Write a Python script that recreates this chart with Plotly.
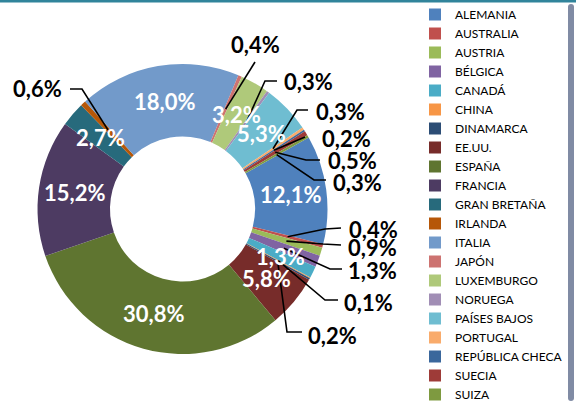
import math
import plotly.graph_objects as go

# ---------------- data ----------------
countries = ["ALEMANIA", "AUSTRALIA", "AUSTRIA", "BÉLGICA", "CANADÁ", "CHINA",
             "DINAMARCA", "EE.UU.", "ESPAÑA", "FRANCIA", "GRAN BRETAÑA", "IRLANDA",
             "ITALIA", "JAPÓN", "LUXEMBURGO", "NORUEGA", "PAÍSES BAJOS", "PORTUGAL",
             "REPÚBLICA CHECA", "SUECIA", "SUIZA"]
shares = [12.1, 0.4, 0.9, 1.3, 1.3, 0.1, 0.2, 5.8, 30.8, 15.2, 2.7, 0.6,
          18.0, 0.4, 3.2, 0.3, 5.3, 0.3, 0.2, 0.5, 0.3]
colors = ["#4F81BD", "#C0504D", "#9BBB59", "#8064A2", "#4BACC6", "#F79646",
          "#2C4D75", "#772C2A", "#5F7530", "#4D3B62", "#276A7C", "#B65708",
          "#729ACA", "#CD7371", "#AFC97A", "#A18EB5", "#6FBDD1", "#F9AB6B",
          "#3A679C", "#9E3B38", "#7E9A40"]
inside_labels = ["ALEMANIA", "CANADÁ", "EE.UU.", "ESPAÑA", "FRANCIA", "GRAN BRETAÑA",
                 "ITALIA", "LUXEMBURGO", "PAÍSES BAJOS"]

# ---------------- layout geometry (pixels) ----------------
W, H = 576, 403
CX, CY, R = 182.5, 209.0, 145.0
HOLE = 0.5
ROTATION = 60.5
FONT = "Lato"

# outside label placement: (elbow points in px, text position px, xanchor)
outside = {
    "AUSTRALIA":       ([(325, 229), (341, 228)], (347, 230), "left"),
    "AUSTRIA":         ([(323, 244), (341, 245)], (346, 247), "left"),
    "BÉLGICA":         ([(330, 269), (342, 269)], (346, 270), "left"),
    "CHINA":           ([(325, 300), (338, 300)], (342, 302), "left"),
    "DINAMARCA":       ([(287, 332), (302, 332)], (306, 335), "left"),
    "IRLANDA":         ([(82, 89), (70, 89)], (64, 88), "right"),
    "JAPÓN":           ([(255, 62)], (255, 44), "center"),
    "NORUEGA":         ([(265, 81), (277, 81)], (282, 81), "left"),
    "PORTUGAL":        ([(297, 110), (308, 110)], (314, 111), "left"),
    "REPÚBLICA CHECA": ([(305, 137)], (320, 138), "left"),
    "SUECIA":          ([(306, 160), (320, 160)], (326, 160), "left"),
    "SUIZA":           ([(314, 180), (326, 180)], (331, 183), "left"),
}


def px2paper(x, y):
    return x / W, 1 - y / H


def fmt(v):
    return f"{v:.1f}%".replace(".", ",")


fig = go.Figure(go.Pie(
    labels=countries,
    values=shares,
    marker=dict(colors=colors, line=dict(width=0)),
    hole=HOLE,
    sort=False,
    direction="clockwise",
    rotation=ROTATION,
    textinfo="none",
    hoverinfo="label+percent",
    domain=dict(x=[(CX - R) / W, (CX + R) / W],
                y=[1 - (CY + R) / H, 1 - (CY - R) / H]),
))

total = sum(shares)
rmid = R * (1 + HOLE) / 2
annotations = []
shapes = [dict(type="rect", xref="paper", yref="paper", x0=0, x1=1,
               y0=1 - 2.5 / H, y1=1, fillcolor="#31849B", line=dict(width=0))]
cum = 0.0
for name, v in zip(countries, shares):
    ang = math.radians(ROTATION + 360 * (cum + v / 2) / total)
    cum += v
    ax = CX + rmid * math.sin(ang)
    ay = CY - rmid * math.cos(ang)
    if name in inside_labels:
        x, y = px2paper(ax, ay)
        annotations.append(dict(x=x, y=y, xref="paper", yref="paper", text=fmt(v),
                                showarrow=False, xanchor="center", yanchor="middle",
                                font=dict(family=FONT, size=22, color="white", weight="bold")))
    elif name in outside:
        pts, (tx, ty), anchor = outside[name]
        path_pts = [(ax, ay)] + pts
        path = "M " + " L ".join(f"{px2paper(px, py)[0]:.5f},{px2paper(px, py)[1]:.5f}"
                                  for px, py in path_pts)
        shapes.append(dict(type="path", xref="paper", yref="paper", path=path,
                           line=dict(color="black", width=1.6)))
        x, y = px2paper(tx, ty)
        annotations.append(dict(x=x, y=y, xref="paper", yref="paper", text=fmt(v),
                                showarrow=False, xanchor=anchor, yanchor="middle",
                                font=dict(family=FONT, size=22, color="black", weight="bold")))

fig.update_layout(
    width=W, height=H,
    margin=dict(l=0, r=0, t=0, b=0),
    paper_bgcolor="white",
    plot_bgcolor="white",
    font=dict(family=FONT),
    showlegend=True,
    legend=dict(x=(455 - 40) / W, y=1 - 10.5 / H, xanchor="left", yanchor="top",
                orientation="v", traceorder="normal",
                font=dict(family=FONT, size=12, color="black"),
                bgcolor="rgba(0,0,0,0)"),
    annotations=annotations,
    shapes=shapes,
)

fig.write_html("out.html",
               config={"displayModeBar": False},
               post_script="document.body.style.margin='0';document.body.style.overflow='hidden';")
